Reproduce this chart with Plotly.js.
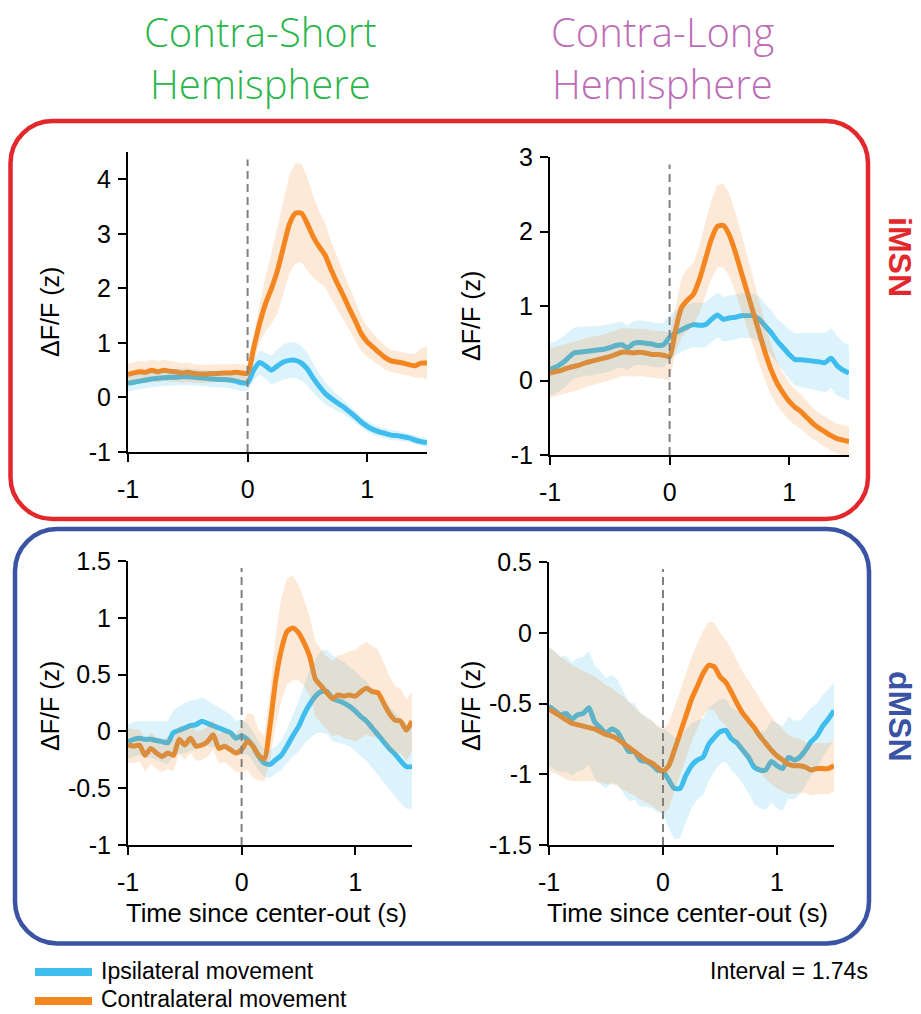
<!DOCTYPE html>
<html>
<head>
<meta charset="utf-8">
<script src="https://cdn.plot.ly/plotly-3.0.1.min.js"></script>
<style>html,body{margin:0;padding:0;background:#fff;}#chart{width:921px;height:1014px;}</style>
</head>
<body>
<div id="chart"></div>
<script>
// ---------- DATA ----------
const time = [-1,-0.95,-0.9,-0.85,-0.8,-0.75,-0.7,-0.65,-0.6,-0.55,-0.5,-0.45,-0.4,-0.35,-0.3,-0.25,-0.2,-0.15,-0.1,-0.05,0,0.05,0.1,0.15,0.2,0.25,0.3,0.35,0.4,0.45,0.5,0.55,0.6,0.65,0.7,0.75,0.8,0.85,0.9,0.95,1,1.05,1.1,1.15,1.2,1.25,1.3,1.35,1.4,1.45,1.5];

// iMSN, Contra-Short hemisphere
const iShortIpsi = [0.26,0.28,0.3,0.32,0.34,0.35,0.36,0.37,0.37,0.38,0.38,0.37,0.36,0.35,0.34,0.33,0.33,0.32,0.3,0.27,0.27,
  0.5,0.64,0.58,0.5,0.58,0.65,0.68,0.68,0.63,0.52,0.35,0.2,0.07,-0.02,-0.1,-0.17,-0.26,-0.35,-0.45,-0.53,-0.59,-0.63,-0.66,-0.69,-0.7,-0.72,-0.74,-0.78,-0.81,-0.83];
const iShortIpsiSem = [0.15,0.15,0.15,0.15,0.15,0.15,0.15,0.15,0.15,0.15,0.15,0.15,0.15,0.15,0.15,0.15,0.15,0.15,0.15,0.15,0.15,
  0.2,0.22,0.24,0.27,0.3,0.32,0.33,0.33,0.32,0.3,0.27,0.23,0.2,0.17,0.15,0.13,0.12,0.11,0.1,0.1,0.1,0.09,0.09,0.09,0.09,0.08,0.08,0.08,0.08,0.08];
const iShortContra = [0.42,0.45,0.47,0.46,0.5,0.47,0.5,0.48,0.47,0.45,0.46,0.44,0.43,0.43,0.44,0.44,0.45,0.45,0.46,0.45,0.44,
  0.9,1.35,1.72,2.0,2.33,2.76,3.18,3.38,3.38,3.18,2.94,2.76,2.6,2.33,2.09,1.87,1.63,1.41,1.17,1.02,0.92,0.82,0.73,0.67,0.65,0.63,0.6,0.58,0.63,0.63];
const iShortContraSem = [0.2,0.2,0.2,0.2,0.2,0.2,0.19,0.19,0.18,0.18,0.18,0.17,0.17,0.17,0.16,0.16,0.16,0.16,0.16,0.16,0.17,
  0.25,0.35,0.5,0.65,0.78,0.85,0.9,0.92,0.9,0.85,0.75,0.65,0.58,0.52,0.48,0.44,0.4,0.36,0.32,0.28,0.25,0.23,0.22,0.2,0.2,0.2,0.2,0.22,0.27,0.3];

// iMSN, Contra-Long hemisphere
const iLongIpsi = [0.15,0.18,0.23,0.3,0.37,0.38,0.39,0.4,0.41,0.42,0.44,0.47,0.48,0.44,0.5,0.51,0.5,0.49,0.47,0.48,0.58,
  0.64,0.68,0.72,0.75,0.74,0.75,0.82,0.88,0.82,0.84,0.85,0.87,0.87,0.87,0.82,0.73,0.64,0.53,0.44,0.35,0.28,0.28,0.27,0.26,0.25,0.24,0.3,0.2,0.14,0.1];
const iLongIpsiSem = [0.35,0.35,0.35,0.35,0.34,0.34,0.33,0.33,0.32,0.32,0.32,0.31,0.31,0.3,0.3,0.3,0.3,0.3,0.3,0.3,0.3,
  0.3,0.3,0.3,0.3,0.3,0.3,0.3,0.3,0.3,0.3,0.3,0.3,0.3,0.3,0.3,0.3,0.3,0.3,0.32,0.33,0.35,0.36,0.37,0.38,0.39,0.4,0.4,0.4,0.38,0.37];
const iLongContra = [0.1,0.12,0.14,0.17,0.19,0.21,0.24,0.26,0.28,0.3,0.32,0.35,0.38,0.38,0.37,0.38,0.37,0.35,0.35,0.34,0.32,
  0.68,0.98,1.08,1.16,1.36,1.63,1.9,2.07,2.08,1.95,1.72,1.45,1.18,0.91,0.64,0.37,0.14,-0.04,-0.17,-0.28,-0.36,-0.42,-0.5,-0.58,-0.64,-0.69,-0.74,-0.78,-0.8,-0.82];
const iLongContraSem = [0.33,0.33,0.33,0.33,0.33,0.33,0.33,0.32,0.32,0.32,0.32,0.32,0.32,0.32,0.32,0.32,0.32,0.32,0.32,0.32,0.32,
  0.3,0.4,0.42,0.42,0.45,0.5,0.53,0.55,0.56,0.55,0.54,0.52,0.5,0.46,0.42,0.38,0.34,0.3,0.27,0.25,0.24,0.23,0.22,0.21,0.2,0.2,0.2,0.2,0.2,0.2];

// dMSN, Contra-Short hemisphere
const dShortIpsi = [-0.09,-0.07,-0.06,-0.07,-0.07,-0.08,-0.09,-0.1,-0.01,0.01,0.03,0.05,0.06,0.09,0.07,0.05,0.03,0.01,-0.01,-0.06,-0.04,
  -0.07,-0.13,-0.22,-0.28,-0.29,-0.25,-0.21,-0.13,-0.04,0.04,0.15,0.24,0.31,0.35,0.35,0.29,0.27,0.25,0.22,0.18,0.13,0.09,0.03,-0.03,-0.09,-0.15,-0.2,-0.26,-0.31,-0.31];
const dShortIpsiSem = [0.15,0.15,0.15,0.16,0.16,0.17,0.18,0.19,0.2,0.21,0.22,0.22,0.22,0.21,0.2,0.19,0.18,0.17,0.16,0.15,0.15,
  0.14,0.13,0.13,0.12,0.12,0.12,0.13,0.15,0.18,0.22,0.26,0.3,0.33,0.36,0.37,0.38,0.37,0.36,0.35,0.35,0.35,0.35,0.35,0.35,0.36,0.36,0.37,0.37,0.37,0.37];
const dShortContra = [-0.12,-0.13,-0.12,-0.21,-0.15,-0.19,-0.22,-0.19,-0.21,-0.07,-0.12,-0.06,-0.13,-0.12,-0.09,-0.03,-0.15,-0.13,-0.16,-0.19,-0.16,
  -0.09,-0.13,-0.21,-0.24,0.05,0.45,0.72,0.88,0.91,0.87,0.78,0.66,0.46,0.4,0.34,0.29,0.32,0.31,0.32,0.31,0.35,0.38,0.35,0.34,0.25,0.16,0.1,0.09,0.01,0.09];
const dShortContraSem = [0.15,0.15,0.14,0.14,0.14,0.14,0.14,0.14,0.14,0.13,0.13,0.13,0.13,0.13,0.13,0.13,0.13,0.14,0.15,0.17,0.2,
  0.25,0.28,0.22,0.2,0.3,0.4,0.45,0.47,0.46,0.42,0.38,0.35,0.33,0.32,0.32,0.33,0.35,0.37,0.39,0.4,0.41,0.41,0.4,0.38,0.36,0.33,0.3,0.28,0.27,0.26];

// dMSN, Contra-Long hemisphere
const dLongIpsi = [-0.52,-0.55,-0.58,-0.57,-0.61,-0.58,-0.57,-0.53,-0.63,-0.67,-0.71,-0.68,-0.7,-0.77,-0.84,-0.84,-0.9,-0.91,-0.93,-0.97,-0.98,
  -1.04,-1.1,-1.1,-1.01,-0.94,-0.9,-0.88,-0.79,-0.74,-0.7,-0.69,-0.75,-0.78,-0.83,-0.88,-0.95,-0.97,-0.97,-0.91,-0.94,-0.96,-0.88,-0.9,-0.88,-0.83,-0.77,-0.73,-0.66,-0.61,-0.55];
const dLongIpsiSem = [0.42,0.42,0.41,0.41,0.4,0.4,0.4,0.4,0.4,0.4,0.39,0.38,0.37,0.36,0.35,0.34,0.33,0.32,0.31,0.3,0.3,
  0.34,0.36,0.35,0.33,0.3,0.28,0.27,0.26,0.24,0.23,0.22,0.22,0.23,0.24,0.25,0.26,0.27,0.28,0.29,0.3,0.3,0.29,0.28,0.26,0.25,0.24,0.23,0.22,0.21,0.2];
const dLongContra = [-0.54,-0.565,-0.59,-0.615,-0.64,-0.65,-0.66,-0.67,-0.68,-0.7,-0.72,-0.73,-0.75,-0.78,-0.81,-0.84,-0.87,-0.9,-0.92,-0.95,-0.98,
  -0.94,-0.83,-0.71,-0.59,-0.47,-0.38,-0.29,-0.23,-0.24,-0.31,-0.35,-0.42,-0.5,-0.57,-0.62,-0.67,-0.73,-0.78,-0.83,-0.87,-0.9,-0.93,-0.94,-0.94,-0.95,-0.97,-0.96,-0.96,-0.96,-0.94];
const dLongContraSem = [0.44,0.43,0.42,0.42,0.41,0.4,0.39,0.38,0.37,0.36,0.35,0.34,0.33,0.33,0.32,0.31,0.31,0.3,0.3,0.3,0.3,
  0.3,0.3,0.3,0.3,0.3,0.3,0.3,0.31,0.31,0.31,0.3,0.3,0.3,0.29,0.28,0.27,0.26,0.25,0.24,0.23,0.22,0.21,0.2,0.19,0.18,0.18,0.18,0.18,0.18,0.18];

// Ticks and labels
const xTickVals = [-1, 0, 1];
const xTickText = ['-1', '0', '1'];
const yTicksIShort = [-1, 0, 1, 2, 3, 4];
const yTextIShort = ['-1', '0', '1', '2', '3', '4'];
const yTicksILong = [-1, 0, 1, 2, 3];
const yTextILong = ['-1', '0', '1', '2', '3'];
const yTicksDShort = [-1, -0.5, 0, 0.5, 1, 1.5];
const yTextDShort = ['-1', '-0.5', '0', '0.5', '1', '1.5'];
const yTicksDLong = [-1.5, -1, -0.5, 0, 0.5];
const yTextDLong = ['-1.5', '-1', '-0.5', '0', '0.5'];
const columnTitles = [['Contra-Short', 'Hemisphere'], ['Contra-Long', 'Hemisphere']];
const rowLabels = ['iMSN', 'dMSN'];
const seriesNames = ['Ipsilateral movement', 'Contralateral movement'];
const yTitle = 'ΔF/F (z)';
const xTitle = 'Time since center-out (s)';
const intervalText = 'Interval = 1.74s';

// ---------- STYLE ----------
const W = 921, H = 1014;
const BLUE = '#3DBEEE', ORANGE = '#F6861F';
const BLUE_FILL = 'rgba(64,190,238,0.18)', ORANGE_FILL = 'rgba(246,134,31,0.18)';
const FONT = 'Liberation Sans, Arial, Helvetica, sans-serif';
const px = v => v / W;
const py = v => 1 - v / H;

const panels = [
  {ax: '', ipsi: iShortIpsi, ipsiSem: iShortIpsiSem, contra: iShortContra, contraSem: iShortContraSem},
  {ax: '2', ipsi: iLongIpsi, ipsiSem: iLongIpsiSem, contra: iLongContra, contraSem: iLongContraSem},
  {ax: '3', ipsi: dShortIpsi, ipsiSem: dShortIpsiSem, contra: dShortContra, contraSem: dShortContraSem},
  {ax: '4', ipsi: dLongIpsi, ipsiSem: dLongIpsiSem, contra: dLongContra, contraSem: dLongContraSem}
];

function band(mean, sem) {
  const up = mean.map((m, i) => m + sem[i]);
  const lo = mean.map((m, i) => m - sem[i]);
  return {x: time.concat(time.slice().reverse()), y: up.concat(lo.slice().reverse())};
}

const traces = [];
panels.forEach(p => {
  const xa = 'x' + p.ax, ya = 'y' + p.ax;
  traces.push({x: time, y: p.ipsi, xaxis: xa, yaxis: ya, mode: 'lines', line: {color: BLUE, width: 5, shape: 'spline', smoothing: 0.6}, showlegend: false, hoverinfo: 'skip'});
  traces.push({x: time, y: p.contra, xaxis: xa, yaxis: ya, mode: 'lines', line: {color: ORANGE, width: 5, shape: 'spline', smoothing: 0.6}, showlegend: false, hoverinfo: 'skip'});
  const bb = band(p.ipsi, p.ipsiSem);
  traces.push({x: bb.x, y: bb.y, xaxis: xa, yaxis: ya, mode: 'lines', fill: 'toself', fillcolor: BLUE_FILL, line: {width: 0, color: 'rgba(0,0,0,0)'}, showlegend: false, hoverinfo: 'skip'});
  const ob = band(p.contra, p.contraSem);
  traces.push({x: ob.x, y: ob.y, xaxis: xa, yaxis: ya, mode: 'lines', fill: 'toself', fillcolor: ORANGE_FILL, line: {width: 0, color: 'rgba(0,0,0,0)'}, showlegend: false, hoverinfo: 'skip'});
});

function xAxis(domPx, anchor) {
  return {domain: [px(domPx[0]), px(domPx[1])], anchor: anchor, range: [-1, 1.5], showgrid: false, zeroline: false,
    showline: true, linecolor: '#000', linewidth: 2, ticks: 'outside', ticklen: 8, tickwidth: 2, tickcolor: '#000',
    tickvals: xTickVals, ticktext: xTickText, tickfont: {family: FONT, size: 25, color: '#000'}, ticklabelstandoff: 6, fixedrange: true};
}
function yAxis(domPx, anchor, range, vals, text) {
  return {domain: [py(domPx[1]), py(domPx[0])], anchor: anchor, range: range, showgrid: false, zeroline: false,
    showline: true, linecolor: '#000', linewidth: 2, ticks: 'outside', ticklen: 8, tickwidth: 2, tickcolor: '#000',
    tickvals: vals, ticktext: text, tickfont: {family: FONT, size: 25, color: '#000'}, ticklabelstandoff: 2, fixedrange: true};
}

function roundRect(x0, y0, x1, y1, r) {
  const k = 0.5523 * r;
  const P = (x, y) => px(x).toFixed(5) + ',' + py(y).toFixed(5);
  return 'M' + P(x0 + r, y0) + ' L' + P(x1 - r, y0) +
    ' C' + P(x1 - r + k, y0) + ' ' + P(x1, y0 + r - k) + ' ' + P(x1, y0 + r) +
    ' L' + P(x1, y1 - r) +
    ' C' + P(x1, y1 - r + k) + ' ' + P(x1 - r + k, y1) + ' ' + P(x1 - r, y1) +
    ' L' + P(x0 + r, y1) +
    ' C' + P(x0 + r - k, y1) + ' ' + P(x0, y1 - r + k) + ' ' + P(x0, y1 - r) +
    ' L' + P(x0, y0 + r) +
    ' C' + P(x0, y0 + r - k) + ' ' + P(x0 + r - k, y0) + ' ' + P(x0 + r, y0) + ' Z';
}

const shapes = [];
['x', 'x2', 'x3', 'x4'].forEach((xa, i) => {
  const ya = 'y' + (i === 0 ? '' : (i + 1));
  shapes.push({type: 'line', xref: xa, yref: ya + ' domain', x0: 0, x1: 0, y0: 0, y1: 0.975, layer: 'above',
    line: {color: '#808080', width: 2, dash: '8px,5px'}});
});
shapes.push({type: 'path', xref: 'paper', yref: 'paper', path: roundRect(10.5, 121, 868, 519, 42), line: {color: '#E2282D', width: 4.5}, fillcolor: 'rgba(0,0,0,0)', layer: 'below'});
shapes.push({type: 'path', xref: 'paper', yref: 'paper', path: roundRect(15, 529, 869, 943.5, 42), line: {color: '#3A53A4', width: 4.5}, fillcolor: 'rgba(0,0,0,0)', layer: 'below'});
// legend swatches
shapes.push({type: 'line', xref: 'paper', yref: 'paper', x0: px(35), x1: px(92), y0: py(972), y1: py(972), line: {color: BLUE, width: 8}});
shapes.push({type: 'line', xref: 'paper', yref: 'paper', x0: px(35), x1: px(92), y0: py(1001), y1: py(1001), line: {color: ORANGE, width: 8}});

const ann = [];
function txt(text, x, y, size, color, opts) {
  ann.push(Object.assign({text: text, x: px(x), y: py(y), xref: 'paper', yref: 'paper', showarrow: false,
    xanchor: 'center', yanchor: 'middle', font: {family: FONT, size: size, color: color}}, opts || {}));
}
const TFONT = 'Open Sans, Lato, sans-serif';
const GREEN = '#2BB54A', PURPLE = '#BD6DB6';
txt(columnTitles[0][0], 260, 31, 40, GREEN, {font: {family: TFONT, size: 40, color: GREEN, weight: 300}});
txt(columnTitles[0][1], 260, 84, 40, GREEN, {font: {family: TFONT, size: 40, color: GREEN, weight: 300}});
txt(columnTitles[1][0], 662, 31, 40, PURPLE, {font: {family: TFONT, size: 40, color: PURPLE, weight: 300}});
txt(columnTitles[1][1], 662, 84, 40, PURPLE, {font: {family: TFONT, size: 40, color: PURPLE, weight: 300}});
txt('<b>' + rowLabels[0] + '</b>', 900, 257, 32, '#E2282D', {textangle: 90});
txt('<b>' + rowLabels[1] + '</b>', 900, 716, 32, '#3A53A4', {textangle: 90});
txt(yTitle, 50, 312, 25, '#000', {textangle: -90});
txt(yTitle, 471, 316, 25, '#000', {textangle: -90});
txt(yTitle, 50, 706, 25, '#000', {textangle: -90});
txt(yTitle, 471, 706, 25, '#000', {textangle: -90});
txt(xTitle, 266, 913, 25.5, '#000');
txt(xTitle, 687, 913, 25.5, '#000');
txt(seriesNames[0], 100, 971, 23, '#000', {xanchor: 'left', borderpad: 0});
txt(seriesNames[1], 100, 1013, 23, '#000', {xanchor: 'left', yanchor: 'bottom', borderpad: 0});
txt(intervalText, 869, 971, 23, '#000', {xanchor: 'right', borderpad: 0});

const layout = {
  width: W, height: H, margin: {l: 0, r: 0, t: 0, b: 0}, paper_bgcolor: '#fff', plot_bgcolor: 'rgba(0,0,0,0)',
  showlegend: false, font: {family: FONT, color: '#000'},
  xaxis: xAxis([128, 427], 'y'), yaxis: yAxis([152, 452], 'x', [-1, 4.5], yTicksIShort, yTextIShort),
  xaxis2: xAxis([550, 849], 'y2'), yaxis2: yAxis([157, 455], 'x2', [-1, 3], yTicksILong, yTextILong),
  xaxis3: xAxis([128, 412], 'y3'), yaxis3: yAxis([561, 845], 'x3', [-1, 1.5], yTicksDShort, yTextDShort),
  xaxis4: xAxis([549, 834], 'y4'), yaxis4: yAxis([562, 845], 'x4', [-1.5, 0.5], yTicksDLong, yTextDLong),
  shapes: shapes, annotations: ann
};

Plotly.newPlot('chart', traces, layout, {staticPlot: true, displayModeBar: false});
</script>
</body>
</html>
